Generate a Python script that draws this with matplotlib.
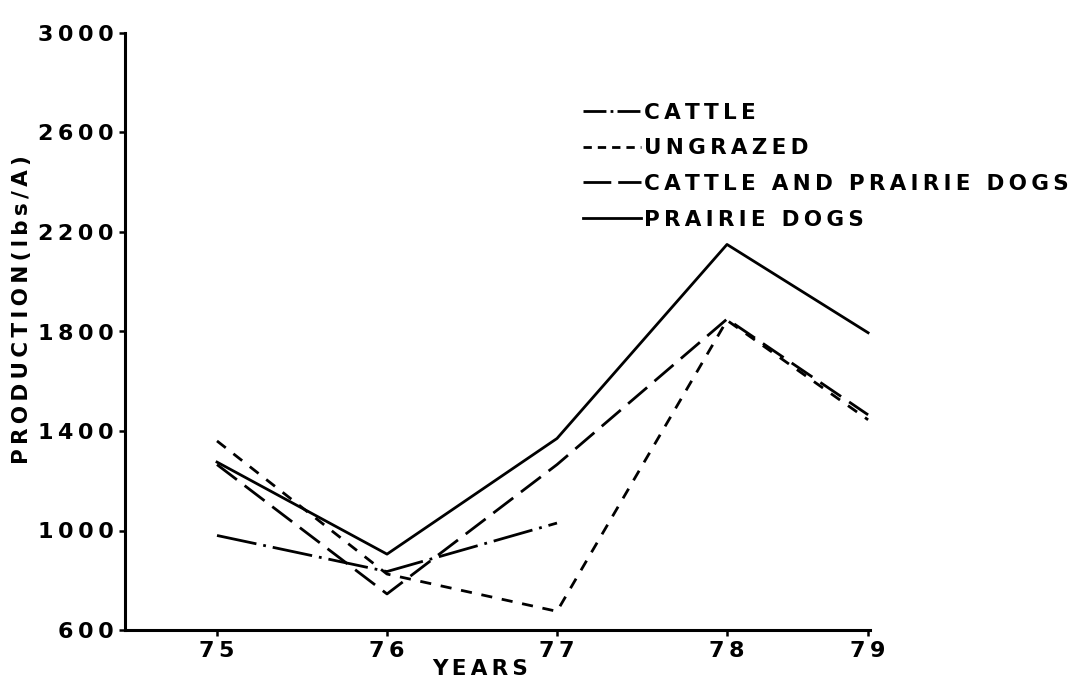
import matplotlib
matplotlib.use("Agg")
import matplotlib.pyplot as plt
from matplotlib.lines import Line2D

# ---- data ----
years = ["75", "76", "77", "78", "79"]
cattle_years = ["75", "76", "77"]
cattle = [980, 835, 1030]
ungrazed = [1360, 825, 675, 1845, 1445]
cattle_prairie_dogs = [1265, 745, 1265, 1850, 1465]
prairie_dogs = [1275, 905, 1370, 2150, 1795]
yticks = [600, 1000, 1400, 1800, 2200, 2600, 3000]
series_names = ["CATTLE", "UNGRAZED", "CATTLE AND PRAIRIE DOGS", "PRAIRIE DOGS"]

# ---- layout (hand-drawn axis spacing of the original) ----
year_pos = {"75": 0.0, "76": 1.0, "77": 2.0, "78": 3.0, "79": 3.83}

plt.rcParams["font.family"] = ["DejaVu Sans"]
plt.rcParams["font.weight"] = "bold"
plt.rcParams["lines.scale_dashes"] = False

THIN = "\u2009"


def sp(s):
    return THIN.join(s)


W, H = 1074, 679
fig = plt.figure(figsize=(W / 100, H / 100), dpi=100)
left_px, right_px, bottom_px, top_px = 125, 870, 630, 33
ax = fig.add_axes([left_px / W, 1 - bottom_px / H,
                   (right_px - left_px) / W, (bottom_px - top_px) / H])

x0_px, x1_px = 217, 387  # pixel of pos 0 and pos 1
px_per = x1_px - x0_px
ax.set_xlim((left_px - x0_px) / px_per, (right_px - x0_px) / px_per)
ax.set_ylim(600, 3000)

lw = 2.0
xs = [year_pos[y] for y in years]
xc = [year_pos[y] for y in cattle_years]
ax.plot(xc, cattle, color="black", lw=lw, dashes=(29, 5, 2, 5))
ax.plot(xs, ungrazed, color="black", lw=lw, dashes=(8, 7))
ax.plot(xs, cattle_prairie_dogs, color="black", lw=lw, dashes=(18, 7))
ax.plot(xs, prairie_dogs, color="black", lw=lw)

for s in ["top", "right"]:
    ax.spines[s].set_visible(False)
for s in ["left", "bottom"]:
    ax.spines[s].set_linewidth(2.2)

ax.set_yticks(yticks, labels=[sp(str(t)) for t in yticks])
ax.set_xticks(xs, labels=[sp(y) for y in years])
ax.tick_params(axis="y", direction="out", length=4, width=1.8, pad=4,
               labelsize=16)
ax.tick_params(axis="x", direction="out", length=4, width=1.8, pad=4,
               labelsize=16)

ax.set_ylabel(sp("PRODUCTION(lbs/A)"), fontsize=15.5, fontweight="bold")
ax.yaxis.set_label_coords((22 - left_px) / (right_px - left_px),
                          (bottom_px - 310) / (bottom_px - top_px))
ax.yaxis.label.set_va("center")
ax.set_xlabel(sp("YEARS"), fontsize=15.5, fontweight="bold")
ax.xaxis.set_label_coords((480 - left_px) / (right_px - left_px),
                          (bottom_px - 669) / (bottom_px - top_px))
ax.xaxis.label.set_va("center")

handles = [
    Line2D([], [], color="black", lw=lw, dashes=(16.5, 3, 2, 3)),
    Line2D([], [], color="black", lw=lw, dashes=(6, 4.3)),
    Line2D([], [], color="black", lw=lw, dashes=(20, 5)),
    Line2D([], [], color="black", lw=lw),
]
leg = fig.legend(handles, [sp(n) for n in series_names],
                 loc="upper left", bbox_to_anchor=(583 / W, 1 - 103 / H),
                 frameon=False, borderpad=0, borderaxespad=0,
                 handlelength=2.7, handletextpad=0.15, labelspacing=0.72,
                 prop={"size": 15.5, "weight": "bold"})

fig.savefig("out.png", dpi=100)
